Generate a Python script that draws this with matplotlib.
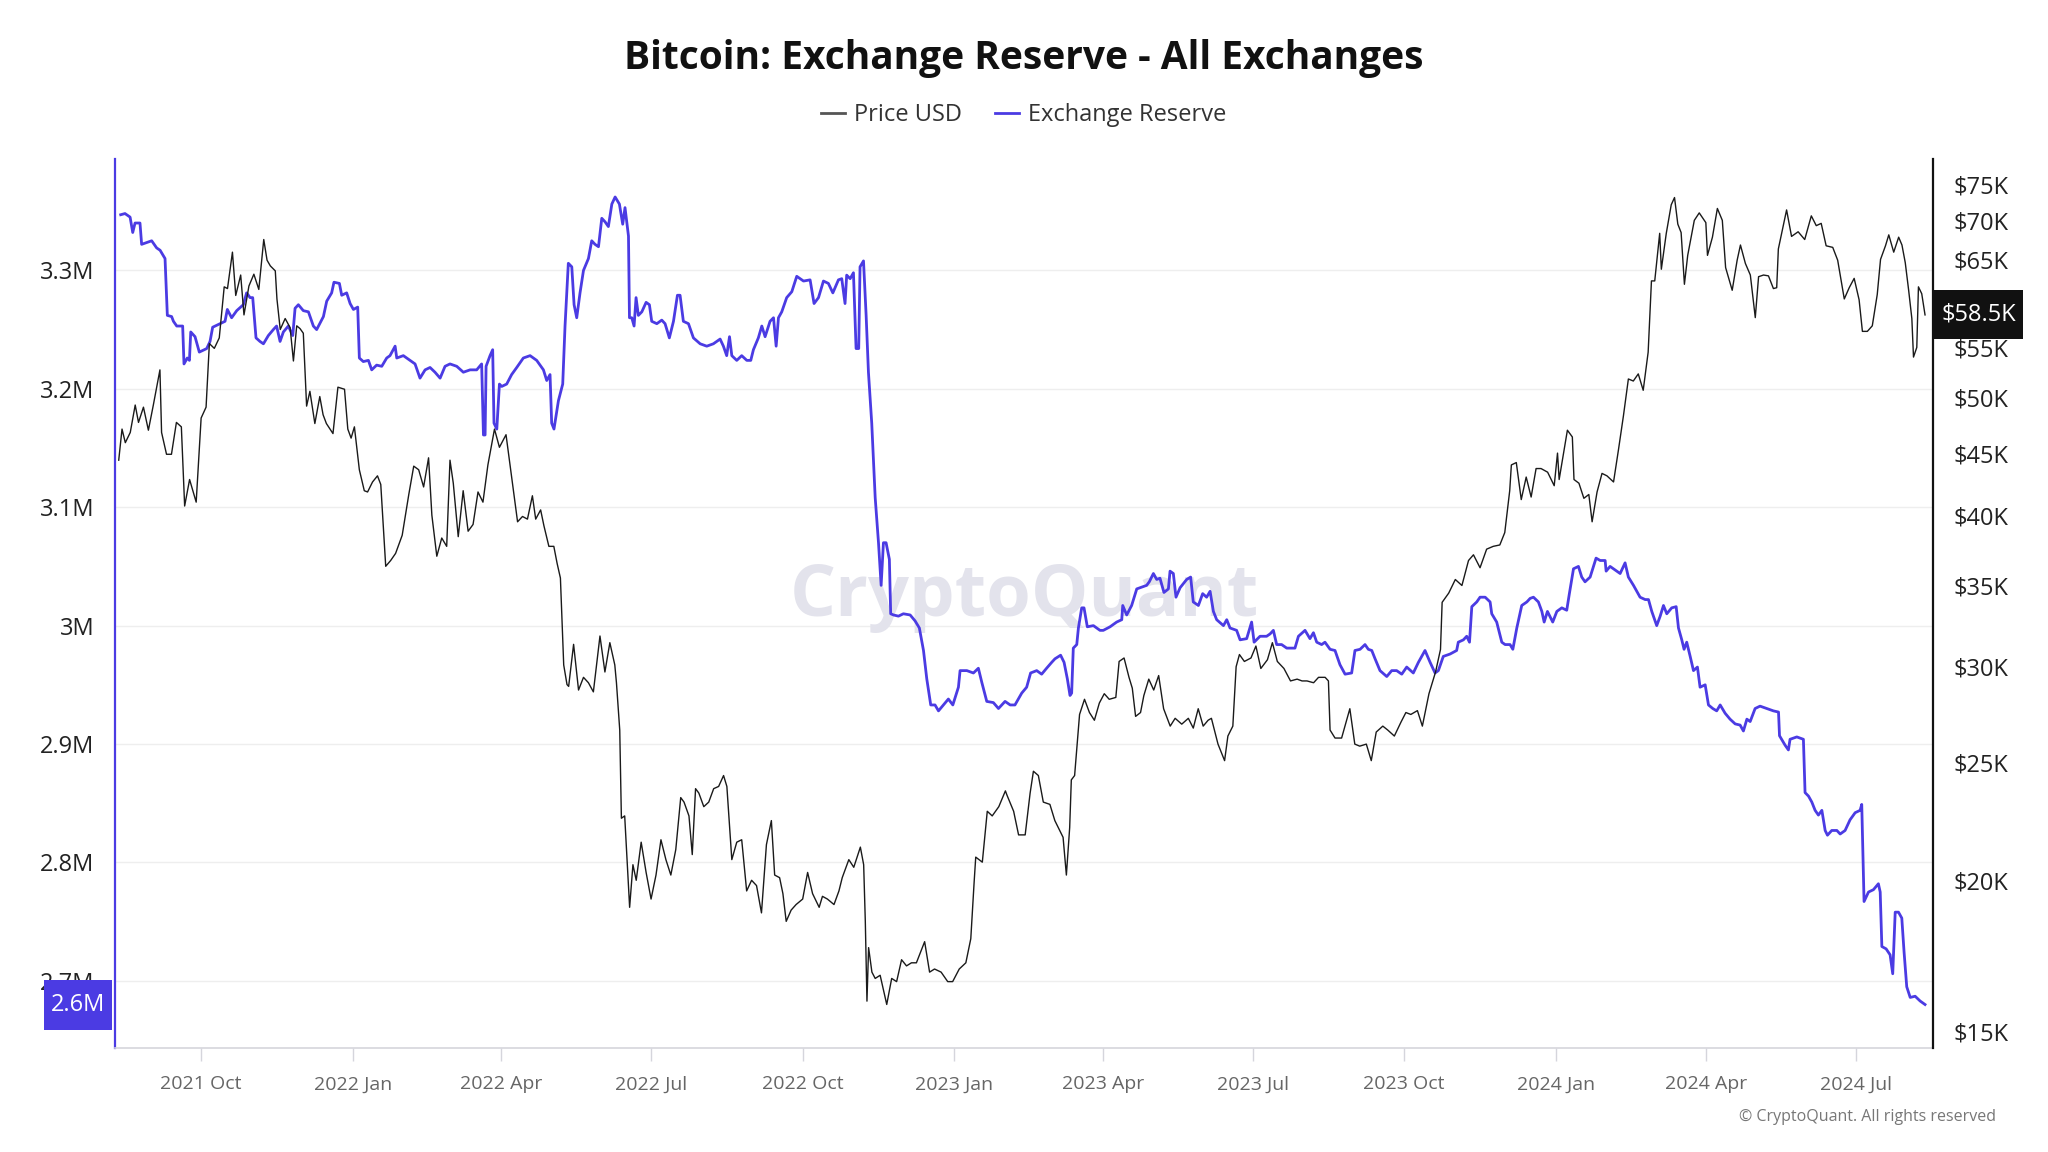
import math
import pandas as pd
import numpy as np
import matplotlib
matplotlib.use('Agg')
from matplotlib import pyplot as plt
import matplotlib.dates as mdates
import matplotlib.transforms as mtransforms
from matplotlib.lines import Line2D
from matplotlib.patches import Rectangle

plt.rcParams['font.family'] = ['Open Sans', 'DejaVu Sans']

PURPLE = '#4B3BE3'

# exchange reserve, (days since 2021-08-12, BTC in millions)
start = pd.Timestamp('2021-08-12')
reserve_pts = [
    (1.2, 3.347), (3.8, 3.348), (6.9, 3.345), (8.5, 3.332), (9.9, 3.340), (12.9, 3.340), (13.9, 3.322),
    (20.0, 3.325), (23.0, 3.319), (25.1, 3.317), (28.1, 3.310), (29.5, 3.262), (32.1, 3.261), (33.2, 3.257),
    (35.2, 3.253), (38.8, 3.253), (39.6, 3.221), (41.6, 3.226), (42.9, 3.224), (43.7, 3.248), (46.3, 3.244),
    (48.9, 3.231), (53.4, 3.234), (55.4, 3.240), (57.0, 3.252), (61.5, 3.255), (64.5, 3.257), (65.9, 3.267),
    (68.5, 3.260), (71.6, 3.266), (75.6, 3.271), (77.6, 3.281), (79.7, 3.277), (81.3, 3.277), (83.3, 3.243),
    (85.7, 3.240), (87.8, 3.238), (90.8, 3.245), (93.8, 3.250), (95.8, 3.253), (97.9, 3.240), (99.9, 3.248),
    (102.9, 3.253), (105.6, 3.245), (107.0, 3.268), (109.0, 3.271), (112.0, 3.266), (115.1, 3.265),
    (118.1, 3.253), (120.1, 3.250), (124.2, 3.261), (126.2, 3.274), (129.2, 3.281), (130.6, 3.290),
    (133.9, 3.289), (135.3, 3.279), (138.3, 3.281), (140.4, 3.272), (142.4, 3.267), (145.0, 3.269),
    (146.0, 3.226), (148.4, 3.223), (151.5, 3.224), (153.5, 3.216), (156.5, 3.220), (159.6, 3.219),
    (162.6, 3.226), (164.6, 3.228), (167.7, 3.236), (168.7, 3.226), (172.7, 3.228), (176.8, 3.224),
    (179.8, 3.221), (182.8, 3.209), (185.9, 3.216), (188.9, 3.218), (191.9, 3.214), (195.0, 3.209),
    (198.0, 3.219), (201.0, 3.221), (205.1, 3.219), (209.1, 3.214), (213.2, 3.216), (217.2, 3.216),
    (220.2, 3.221), (221.3, 3.161), (222.3, 3.161), (222.9, 3.219), (225.3, 3.228), (226.9, 3.233),
    (227.7, 3.171), (229.4, 3.166), (231.0, 3.204), (232.4, 3.202), (235.4, 3.204), (238.4, 3.212),
    (241.5, 3.218), (245.5, 3.226), (249.6, 3.228), (253.6, 3.224), (257.7, 3.216), (259.7, 3.207),
    (261.7, 3.212), (262.7, 3.171), (264.1, 3.166), (266.8, 3.190), (269.4, 3.204), (270.8, 3.253),
    (272.8, 3.306), (274.9, 3.303), (276.3, 3.271), (277.9, 3.260), (279.9, 3.281), (282.0, 3.300),
    (285.0, 3.310), (287.0, 3.325), (289.0, 3.322), (291.1, 3.320), (293.1, 3.344), (295.1, 3.341),
    (297.1, 3.337), (299.2, 3.356), (301.2, 3.362), (303.8, 3.356), (305.8, 3.339), (307.2, 3.353),
    (309.3, 3.329), (309.9, 3.260), (311.3, 3.260), (312.7, 3.253), (313.9, 3.277), (315.3, 3.262),
    (317.4, 3.265), (320.0, 3.273), (322.0, 3.271), (323.4, 3.257), (326.5, 3.255), (329.5, 3.258),
    (331.5, 3.255), (334.1, 3.243), (336.6, 3.257), (339.0, 3.279), (340.6, 3.279), (342.6, 3.257),
    (345.7, 3.255), (348.7, 3.243), (352.8, 3.238), (356.8, 3.236), (360.8, 3.238), (364.9, 3.242),
    (366.9, 3.236), (368.9, 3.228), (370.6, 3.244), (372.0, 3.228), (375.0, 3.224), (378.0, 3.228),
    (381.1, 3.224), (383.5, 3.224), (385.1, 3.233), (388.1, 3.243), (390.2, 3.253), (392.2, 3.244),
    (395.2, 3.257), (397.3, 3.260), (398.9, 3.236), (400.3, 3.260), (402.3, 3.265), (405.3, 3.277),
    (408.4, 3.282), (411.4, 3.295), (415.5, 3.291), (419.5, 3.292), (421.9, 3.272), (424.6, 3.277),
    (427.6, 3.291), (430.6, 3.289), (433.3, 3.281), (436.7, 3.292), (438.7, 3.293), (440.7, 3.272),
    (441.7, 3.296), (443.8, 3.293), (445.8, 3.298), (447.4, 3.234), (449.0, 3.234), (449.8, 3.303),
    (451.9, 3.308), (453.5, 3.262), (454.9, 3.214), (456.9, 3.171), (459.0, 3.108), (461.0, 3.070),
    (462.6, 3.034), (464.0, 3.070), (465.6, 3.070), (467.6, 3.056), (468.4, 3.010), (470.1, 3.009),
    (473.1, 3.008), (476.1, 3.010), (480.2, 3.009), (483.2, 3.004), (485.8, 2.998), (488.3, 2.979),
    (490.3, 2.955), (492.7, 2.933), (495.3, 2.933), (497.4, 2.928), (500.4, 2.933), (503.4, 2.938),
    (506.1, 2.933), (509.5, 2.948), (510.5, 2.962), (514.6, 2.962), (518.6, 2.960), (521.6, 2.964),
    (523.7, 2.952), (526.7, 2.936), (530.7, 2.935), (533.8, 2.930), (537.8, 2.936), (540.9, 2.933),
    (543.8, 2.933), (547.9, 2.943), (550.9, 2.948), (553.3, 2.960), (557.0, 2.962), (560.0, 2.959),
    (563.0, 2.964), (566.1, 2.969), (568.1, 2.972), (571.5, 2.975), (573.6, 2.969), (575.6, 2.955),
    (577.2, 2.941), (578.2, 2.943), (579.2, 2.981), (581.3, 2.984), (582.3, 2.998), (584.3, 3.015),
    (585.7, 3.015), (587.7, 2.999), (591.4, 3.000), (595.4, 2.996), (597.4, 2.996), (601.5, 2.999),
    (605.5, 3.003), (608.6, 3.005), (609.2, 3.017), (611.6, 3.009), (614.6, 3.017), (617.7, 3.031),
    (621.7, 3.033), (623.7, 3.034), (625.3, 3.037), (627.8, 3.044), (629.8, 3.039), (631.8, 3.040),
    (634.2, 3.028), (636.9, 3.031), (637.9, 3.046), (639.9, 3.044), (641.5, 3.024), (644.0, 3.032),
    (648.0, 3.039), (650.4, 3.041), (652.0, 3.020), (655.1, 3.017), (657.7, 3.027), (660.1, 3.024),
    (662.2, 3.029), (664.2, 3.012), (666.2, 3.005), (670.3, 3.000), (672.3, 3.005), (674.3, 2.998),
    (678.3, 2.996), (680.4, 2.988), (684.4, 2.989), (687.4, 3.003), (688.9, 2.986), (692.5, 2.991),
    (696.5, 2.991), (698.6, 2.993), (700.6, 2.996), (702.6, 2.984), (705.6, 2.984), (708.7, 2.981),
    (713.7, 2.981), (715.8, 2.991), (719.8, 2.996), (722.8, 2.989), (724.9, 2.994), (726.9, 2.986),
    (729.9, 2.984), (731.9, 2.986), (735.0, 2.980), (738.0, 2.979), (741.0, 2.967), (744.1, 2.959),
    (748.1, 2.960), (750.1, 2.979), (753.2, 2.980), (756.2, 2.984), (758.2, 2.980), (760.3, 2.979),
    (762.3, 2.972), (765.3, 2.962), (769.4, 2.957), (772.4, 2.962), (775.4, 2.962), (778.5, 2.959),
    (781.5, 2.965), (785.5, 2.960), (788.6, 2.969), (792.6, 2.979), (795.7, 2.969), (798.7, 2.960),
    (800.7, 2.962), (803.7, 2.974), (807.8, 2.976), (811.8, 2.979), (812.8, 2.986), (815.9, 2.988),
    (817.9, 2.991), (819.6, 2.986), (821.0, 3.016), (824.0, 3.020), (826.0, 3.024), (829.1, 3.024),
    (832.1, 3.020), (833.1, 3.010), (836.1, 3.003), (839.2, 2.986), (841.2, 2.984), (844.2, 2.984),
    (845.9, 2.980), (848.3, 2.998), (851.3, 3.017), (854.4, 3.020), (856.4, 3.023), (858.4, 3.024),
    (861.4, 3.020), (863.5, 3.012), (864.9, 3.003), (866.9, 3.012), (870.1, 3.003), (872.6, 3.012),
    (875.6, 3.015), (878.6, 3.013), (880.2, 3.027), (882.7, 3.048), (885.7, 3.050), (887.7, 3.041),
    (889.7, 3.037), (892.8, 3.041), (896.4, 3.057), (898.9, 3.055), (901.9, 3.055), (902.5, 3.046),
    (904.9, 3.050), (908.0, 3.047), (911.0, 3.044), (914.0, 3.053), (916.0, 3.041), (919.1, 3.034),
    (921.1, 3.029), (923.1, 3.024), (926.2, 3.022), (928.2, 3.022), (930.2, 3.012), (933.2, 3.000),
    (935.3, 3.008), (937.3, 3.017), (939.3, 3.010), (942.3, 3.015), (945.0, 3.016), (946.4, 2.998),
    (948.4, 2.988), (949.8, 2.980), (951.4, 2.986), (953.5, 2.974), (955.5, 2.962), (957.9, 2.965),
    (959.5, 2.948), (962.6, 2.950), (964.6, 2.933), (967.2, 2.930), (969.6, 2.928), (971.7, 2.933),
    (974.7, 2.926), (977.7, 2.921), (980.8, 2.917), (983.8, 2.916), (985.8, 2.911), (987.9, 2.921),
    (989.9, 2.919), (992.9, 2.930), (995.9, 2.932), (1000.0, 2.930), (1004.0, 2.928), (1007.1, 2.927),
    (1007.7, 2.907), (1011.1, 2.899), (1013.1, 2.895), (1014.1, 2.904), (1018.2, 2.906), (1022.2, 2.904),
    (1023.2, 2.859), (1025.3, 2.856), (1027.3, 2.851), (1029.3, 2.844), (1031.3, 2.840), (1033.4, 2.844),
    (1035.4, 2.827), (1036.8, 2.823), (1039.4, 2.827), (1042.5, 2.827), (1044.5, 2.824), (1047.5, 2.827),
    (1050.5, 2.836), (1053.6, 2.842), (1056.6, 2.844), (1057.6, 2.849), (1059.0, 2.767), (1061.7, 2.775),
    (1064.7, 2.777), (1067.7, 2.782), (1068.8, 2.775), (1069.8, 2.729), (1072.4, 2.727), (1074.8, 2.722),
    (1076.4, 2.706), (1077.9, 2.758), (1079.9, 2.758), (1081.9, 2.753), (1083.3, 2.724), (1084.9, 2.695),
    (1087.0, 2.686), (1090.0, 2.687), (1093.0, 2.683), (1096.0, 2.680),
]

# BTC price in thousands of USD
price_pts = [
    ('2021-08-12', 44.4), ('2021-08-14', 47.1), ('2021-08-16', 45.9), ('2021-08-19', 46.8), ('2021-08-22', 49.3),
    ('2021-08-24', 47.7), ('2021-08-27', 49.1), ('2021-08-30', 47.0), ('2021-09-02', 49.3), ('2021-09-06', 52.7),
    ('2021-09-07', 46.8), ('2021-09-10', 44.9), ('2021-09-13', 44.9), ('2021-09-16', 47.7), ('2021-09-19', 47.3),
    ('2021-09-21', 40.7), ('2021-09-24', 42.8), ('2021-09-28', 41.0), ('2021-10-01', 48.1), ('2021-10-04', 49.1),
    ('2021-10-06', 55.4), ('2021-10-09', 54.9), ('2021-10-12', 56.0), ('2021-10-15', 61.7), ('2021-10-17', 61.5),
    ('2021-10-20', 65.9), ('2021-10-22', 60.7), ('2021-10-25', 63.1), ('2021-10-27', 58.5), ('2021-10-30', 61.8),
    ('2021-11-02', 63.2), ('2021-11-05', 61.4), ('2021-11-08', 67.5), ('2021-11-10', 64.9), ('2021-11-12', 64.2),
    ('2021-11-15', 63.6), ('2021-11-16', 60.3), ('2021-11-18', 56.9), ('2021-11-21', 58.1), ('2021-11-24', 57.1),
    ('2021-11-26', 53.6), ('2021-11-28', 57.3), ('2021-11-30', 57.0), ('2021-12-02', 56.5), ('2021-12-04', 49.2),
    ('2021-12-06', 50.6), ('2021-12-09', 47.6), ('2021-12-12', 50.1), ('2021-12-14', 48.4), ('2021-12-16', 47.6),
    ('2021-12-20', 46.7), ('2021-12-23', 51.0), ('2021-12-27', 50.8), ('2021-12-29', 47.1), ('2021-12-31', 46.3),
    ('2022-01-02', 47.3), ('2022-01-05', 43.6), ('2022-01-08', 41.9), ('2022-01-10', 41.8), ('2022-01-13', 42.6),
    ('2022-01-16', 43.1), ('2022-01-18', 42.4), ('2022-01-21', 36.3), ('2022-01-24', 36.7), ('2022-01-27', 37.2),
    ('2022-01-31', 38.5), ('2022-02-04', 41.6), ('2022-02-07', 43.9), ('2022-02-10', 43.6), ('2022-02-13', 42.2),
    ('2022-02-16', 44.6), ('2022-02-18', 40.0), ('2022-02-21', 37.0), ('2022-02-24', 38.3), ('2022-02-27', 37.7),
    ('2022-03-01', 44.4), ('2022-03-03', 42.5), ('2022-03-06', 38.4), ('2022-03-09', 41.9), ('2022-03-12', 38.8),
    ('2022-03-15', 39.3), ('2022-03-18', 41.8), ('2022-03-21', 41.0), ('2022-03-24', 44.0), ('2022-03-28', 47.1),
    ('2022-03-31', 45.5), ('2022-04-04', 46.6), ('2022-04-07', 43.4), ('2022-04-11', 39.5), ('2022-04-14', 39.9),
    ('2022-04-17', 39.7), ('2022-04-20', 41.5), ('2022-04-22', 39.7), ('2022-04-25', 40.4), ('2022-04-27', 39.2),
    ('2022-04-30', 37.7), ('2022-05-03', 37.7), ('2022-05-05', 36.5), ('2022-05-07', 35.5), ('2022-05-09', 30.1),
    ('2022-05-11', 29.0), ('2022-05-12', 28.9), ('2022-05-15', 31.3), ('2022-05-18', 28.7), ('2022-05-21', 29.4),
    ('2022-05-24', 29.1), ('2022-05-27', 28.6), ('2022-05-31', 31.8), ('2022-06-03', 29.7), ('2022-06-06', 31.4),
    ('2022-06-09', 30.1), ('2022-06-10', 29.1), ('2022-06-12', 26.6), ('2022-06-13', 22.5), ('2022-06-15', 22.6),
    ('2022-06-18', 19.0), ('2022-06-20', 20.6), ('2022-06-22', 20.0), ('2022-06-25', 21.5), ('2022-06-28', 20.3),
    ('2022-07-01', 19.3), ('2022-07-04', 20.2), ('2022-07-07', 21.6), ('2022-07-10', 20.8), ('2022-07-13', 20.2),
    ('2022-07-16', 21.2), ('2022-07-19', 23.4), ('2022-07-21', 23.2), ('2022-07-24', 22.6), ('2022-07-26', 21.0),
    ('2022-07-28', 23.8), ('2022-07-30', 23.6), ('2022-08-02', 23.0), ('2022-08-05', 23.2), ('2022-08-08', 23.8),
    ('2022-08-11', 23.9), ('2022-08-14', 24.4), ('2022-08-16', 23.9), ('2022-08-19', 20.8), ('2022-08-22', 21.5),
    ('2022-08-25', 21.6), ('2022-08-28', 19.6), ('2022-08-31', 20.0), ('2022-09-03', 19.8), ('2022-09-06', 18.8),
    ('2022-09-09', 21.4), ('2022-09-12', 22.4), ('2022-09-14', 20.2), ('2022-09-17', 20.1), ('2022-09-19', 19.5),
    ('2022-09-21', 18.5), ('2022-09-24', 18.9), ('2022-09-27', 19.1), ('2022-10-01', 19.3), ('2022-10-04', 20.3),
    ('2022-10-07', 19.5), ('2022-10-11', 19.0), ('2022-10-13', 19.4), ('2022-10-16', 19.3), ('2022-10-20', 19.1),
    ('2022-10-23', 19.6), ('2022-10-25', 20.1), ('2022-10-29', 20.8), ('2022-11-01', 20.5), ('2022-11-05', 21.3),
    ('2022-11-07', 20.6), ('2022-11-08', 18.5), ('2022-11-09', 15.9), ('2022-11-10', 17.6), ('2022-11-12', 16.8),
    ('2022-11-14', 16.6), ('2022-11-17', 16.7), ('2022-11-21', 15.8), ('2022-11-24', 16.6), ('2022-11-27', 16.5),
    ('2022-11-30', 17.2), ('2022-12-03', 17.0), ('2022-12-06', 17.1), ('2022-12-09', 17.1), ('2022-12-14', 17.8),
    ('2022-12-17', 16.8), ('2022-12-20', 16.9), ('2022-12-24', 16.8), ('2022-12-28', 16.5), ('2022-12-31', 16.5),
    ('2023-01-04', 16.9), ('2023-01-08', 17.1), ('2023-01-11', 17.9), ('2023-01-13', 19.9), ('2023-01-14', 20.9),
    ('2023-01-18', 20.7), ('2023-01-21', 22.8), ('2023-01-24', 22.6), ('2023-01-28', 23.0), ('2023-02-01', 23.7),
    ('2023-02-02', 23.5), ('2023-02-06', 22.8), ('2023-02-09', 21.8), ('2023-02-13', 21.8), ('2023-02-16', 23.6),
    ('2023-02-18', 24.6), ('2023-02-21', 24.4), ('2023-02-24', 23.2), ('2023-02-28', 23.1), ('2023-03-03', 22.4),
    ('2023-03-08', 21.7), ('2023-03-10', 20.2), ('2023-03-12', 22.1), ('2023-03-13', 24.2), ('2023-03-15', 24.4),
    ('2023-03-18', 27.4), ('2023-03-21', 28.2), ('2023-03-24', 27.5), ('2023-03-27', 27.1), ('2023-03-30', 28.0),
    ('2023-04-02', 28.5), ('2023-04-05', 28.2), ('2023-04-09', 28.3), ('2023-04-11', 30.3), ('2023-04-14', 30.5),
    ('2023-04-17', 29.4), ('2023-04-19', 28.8), ('2023-04-21', 27.3), ('2023-04-24', 27.5), ('2023-04-26', 28.4),
    ('2023-04-29', 29.3), ('2023-05-02', 28.7), ('2023-05-05', 29.5), ('2023-05-08', 27.7), ('2023-05-12', 26.8),
    ('2023-05-15', 27.2), ('2023-05-19', 26.9), ('2023-05-23', 27.2), ('2023-05-26', 26.7), ('2023-05-29', 27.7),
    ('2023-06-01', 26.8), ('2023-06-04', 27.1), ('2023-06-06', 27.2), ('2023-06-10', 25.9), ('2023-06-14', 25.1),
    ('2023-06-16', 26.3), ('2023-06-19', 26.8), ('2023-06-21', 30.0), ('2023-06-23', 30.7), ('2023-06-26', 30.3),
    ('2023-06-30', 30.5), ('2023-07-03', 31.2), ('2023-07-06', 29.9), ('2023-07-10', 30.4), ('2023-07-13', 31.4),
    ('2023-07-16', 30.3), ('2023-07-20', 29.9), ('2023-07-24', 29.2), ('2023-07-28', 29.3), ('2023-07-31', 29.2),
    ('2023-08-03', 29.2), ('2023-08-07', 29.1), ('2023-08-10', 29.4), ('2023-08-14', 29.4), ('2023-08-16', 29.2),
    ('2023-08-17', 26.6), ('2023-08-20', 26.2), ('2023-08-24', 26.2), ('2023-08-29', 27.7), ('2023-09-01', 25.9),
    ('2023-09-04', 25.8), ('2023-09-08', 25.9), ('2023-09-11', 25.1), ('2023-09-14', 26.5), ('2023-09-18', 26.8),
    ('2023-09-21', 26.6), ('2023-09-25', 26.3), ('2023-09-29', 27.0), ('2023-10-02', 27.5), ('2023-10-05', 27.4),
    ('2023-10-09', 27.6), ('2023-10-12', 26.8), ('2023-10-16', 28.5), ('2023-10-20', 29.7), ('2023-10-23', 31.0),
    ('2023-10-24', 33.9), ('2023-10-28', 34.5), ('2023-11-01', 35.4), ('2023-11-05', 35.0), ('2023-11-09', 36.7),
    ('2023-11-12', 37.1), ('2023-11-16', 36.2), ('2023-11-20', 37.5), ('2023-11-24', 37.7), ('2023-11-28', 37.8),
    ('2023-12-01', 38.7), ('2023-12-04', 41.9), ('2023-12-05', 44.0), ('2023-12-08', 44.2), ('2023-12-11', 41.2),
    ('2023-12-14', 43.0), ('2023-12-17', 41.4), ('2023-12-20', 43.7), ('2023-12-23', 43.7), ('2023-12-27', 43.4),
    ('2023-12-31', 42.3), ('2024-01-02', 45.0), ('2024-01-03', 42.8), ('2024-01-08', 47.0), ('2024-01-11', 46.4),
    ('2024-01-12', 42.8), ('2024-01-15', 42.5), ('2024-01-18', 41.3), ('2024-01-21', 41.6), ('2024-01-23', 39.5),
    ('2024-01-26', 41.8), ('2024-01-29', 43.3), ('2024-02-01', 43.1), ('2024-02-05', 42.6), ('2024-02-08', 45.3),
    ('2024-02-11', 48.3), ('2024-02-14', 51.8), ('2024-02-17', 51.6), ('2024-02-20', 52.3), ('2024-02-23', 50.7),
    ('2024-02-26', 54.5), ('2024-02-28', 62.4), ('2024-03-01', 62.4), ('2024-03-04', 68.3), ('2024-03-05', 63.8),
    ('2024-03-08', 68.3), ('2024-03-11', 72.1), ('2024-03-13', 73.1), ('2024-03-15', 69.5), ('2024-03-17', 68.4),
    ('2024-03-19', 62.0), ('2024-03-21', 65.5), ('2024-03-25', 70.0), ('2024-03-28', 71.0), ('2024-04-01', 69.7),
    ('2024-04-02', 65.5), ('2024-04-05', 67.8), ('2024-04-08', 71.6), ('2024-04-11', 70.0), ('2024-04-13', 64.0),
    ('2024-04-17', 61.3), ('2024-04-20', 64.9), ('2024-04-22', 66.8), ('2024-04-25', 64.5), ('2024-04-28', 63.1),
    ('2024-05-01', 58.2), ('2024-05-03', 62.9), ('2024-05-06', 63.1), ('2024-05-09', 63.0), ('2024-05-12', 61.5),
    ('2024-05-14', 61.6), ('2024-05-15', 66.3), ('2024-05-20', 71.4), ('2024-05-23', 67.9), ('2024-05-27', 68.5),
    ('2024-05-31', 67.5), ('2024-06-04', 70.6), ('2024-06-07', 69.3), ('2024-06-10', 69.6), ('2024-06-13', 66.7),
    ('2024-06-17', 66.5), ('2024-06-20', 64.9), ('2024-06-24', 60.3), ('2024-06-27', 61.6), ('2024-06-30', 62.7),
    ('2024-07-03', 60.2), ('2024-07-05', 56.7), ('2024-07-08', 56.7), ('2024-07-11', 57.3), ('2024-07-14', 60.8),
    ('2024-07-16', 65.0), ('2024-07-19', 66.7), ('2024-07-21', 68.1), ('2024-07-24', 65.9), ('2024-07-27', 67.8),
    ('2024-07-29', 66.8), ('2024-07-31', 64.6), ('2024-08-02', 61.4), ('2024-08-04', 58.1), ('2024-08-05', 54.0),
    ('2024-08-07', 55.0), ('2024-08-08', 61.7), ('2024-08-10', 60.9), ('2024-08-12', 58.5),
]

res_ticks = [2.7, 2.8, 2.9, 3.0, 3.1, 3.2, 3.3]
# $60K sits under the last-price box, so it is not shown
price_ticks = [15, 20, 25, 30, 35, 40, 45, 50, 55, 65, 70, 75]

res_dates = start + pd.to_timedelta([p[0] for p in reserve_pts], unit='D')
res_vals = np.array([p[1] for p in reserve_pts])
price_dates = pd.to_datetime([p[0] for p in price_pts])
price_vals = np.array([p[1] for p in price_pts])

fig = plt.figure(figsize=(20.48, 11.52), dpi=100)
ax = fig.add_axes([0.0562, 0.0907, 0.8877, 0.7710])
ax2 = ax.twinx()

ax.plot(res_dates, res_vals, color=PURPLE, lw=2.0, zorder=3)
ax2.plot(price_dates, price_vals, color='#1a1a1a', lw=1.0, zorder=3)

ax.set_xlim(start - pd.Timedelta(days=2.2), start + pd.Timedelta(days=1100.9))
ax.set_ylim(2.6437, 3.3938)
ax2.set_yscale('log')
ax2.set_ylim(14.56, 78.6)

# left axis
ax.set_yticks(res_ticks)
ax.set_yticklabels([f'{v:g}M' for v in res_ticks])
ax.tick_params(axis='y', length=0, pad=15, labelsize=17, labelcolor='#222222')
ax.yaxis.grid(True, color='#eeeeee', lw=1.0)
ax.set_axisbelow(True)

# right axis
ax2.set_yticks(price_ticks)
ax2.set_yticklabels([f'${v}K' for v in price_ticks])
ax2.yaxis.set_minor_locator(matplotlib.ticker.NullLocator())
ax2.tick_params(axis='y', length=0, pad=15, labelsize=17, labelcolor='#222222')

# bottom axis
ax.xaxis.set_major_locator(mdates.MonthLocator(bymonth=[1, 4, 7, 10]))
ax.xaxis.set_major_formatter(mdates.DateFormatter('%Y %b'))
ax.tick_params(axis='x', length=9, width=1, color='#d5d5dc', pad=11, labelsize=14, labelcolor='#666666')

for s in ['top', 'right']:
    ax.spines[s].set_visible(False)
ax.spines['left'].set_color(PURPLE)
ax.spines['left'].set_linewidth(1.6)
ax.spines['bottom'].set_color('#d5d5dc')
ax.spines['bottom'].set_linewidth(1.2)
for s in ['top', 'left', 'bottom']:
    ax2.spines[s].set_visible(False)
ax2.spines['right'].set_color('#111111')
ax2.spines['right'].set_linewidth(1.6)

# watermark
ax.text(0.5, 0.507, 'CryptoQuant', transform=ax.transAxes, ha='center', va='center',
        fontsize=52, fontweight='bold', color='#e3e3ec', zorder=1)

# last value labels: boxes sized in inches, anchored at the last data value
last_res = res_vals[-1]
anchor_l = mtransforms.ScaledTranslation(
    0, last_res, mtransforms.blended_transform_factory(ax.transAxes, ax.transData))
box_l = fig.dpi_scale_trans + anchor_l
ax.add_patch(Rectangle((-0.71, -0.25), 0.68, 0.50, transform=box_l, fc=PURPLE, ec='none',
                       clip_on=False, zorder=9))
ax.text(-0.37, 0, f'{math.floor(last_res * 10) / 10:g}M', transform=box_l, ha='center', va='center',
        fontsize=17, color='white', clip_on=False, zorder=10)

last_price = price_vals[-1]
anchor_r = mtransforms.ScaledTranslation(
    1, last_price, mtransforms.blended_transform_factory(ax2.transAxes, ax2.transData))
box_r = fig.dpi_scale_trans + anchor_r
ax2.add_patch(Rectangle((0.01, -0.245), 0.89, 0.49, transform=box_r, fc='#111111', ec='none',
                        clip_on=False, zorder=9))
ax2.text(0.455, 0, f'${last_price:.1f}K', transform=box_r, ha='center', va='center',
         fontsize=17, color='white', clip_on=False, zorder=10)

# title, legend, footer
fig.text(0.5, 0.949, 'Bitcoin: Exchange Reserve - All Exchanges', ha='center', va='center',
         fontsize=28, fontweight='bold', color='#111111')
handles = [Line2D([], [], color='#555555', lw=2.0), Line2D([], [], color=PURPLE, lw=2.0)]
fig.legend(handles, ['Price USD', 'Exchange Reserve'], loc='center', bbox_to_anchor=(0.5, 0.900),
           ncol=2, frameon=False, fontsize=17, handlelength=1.0, handletextpad=0.4,
           columnspacing=1.4, labelcolor='#333333')
fig.text(0.9746, 0.0304, '\u00a9 CryptoQuant. All rights reserved', ha='right', va='center',
         fontsize=11.5, color='#777777')

fig.savefig('out.png', dpi=100)
